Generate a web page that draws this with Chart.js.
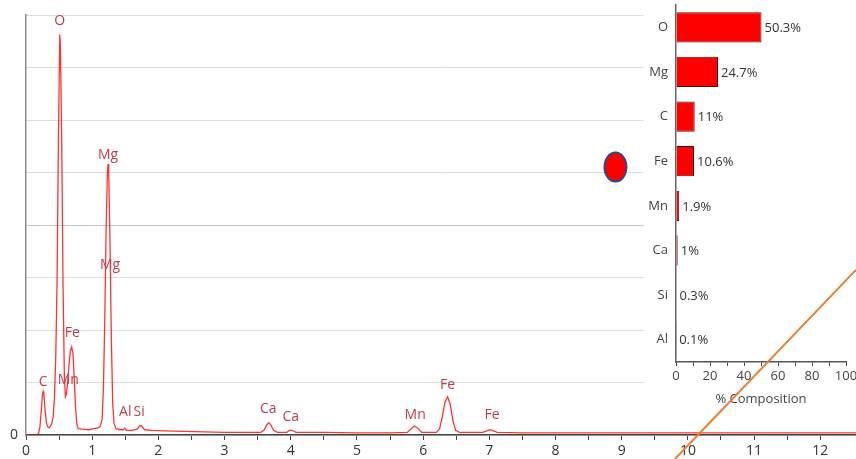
<!DOCTYPE html>
<html>
<head>
<meta charset="utf-8">
<script src="https://cdn.jsdelivr.net/npm/chart.js@4.4.1/dist/chart.umd.min.js"></script>
<style>
  html, body { margin: 0; padding: 0; background: #fff; }
  #wrap { position: relative; width: 856px; height: 459px; overflow: hidden; }
  #spectrum { position: absolute; left: 0; top: 0; }
  #composition { position: absolute; left: 644px; top: 0; }
</style>
</head>
<body>
<div id="wrap">
  <canvas id="spectrum" width="856" height="459"></canvas>
  <canvas id="composition" width="212" height="459"></canvas>
</div>
<script>
// EDS spectrum: energy (keV) and intensity (arbitrary units)
const energyKeV = [
  0.00, 0.16, 0.19, 0.21, 0.23, 0.25, 0.26, 0.27, 0.29, 0.31, 0.33, 0.35, 0.37, 0.39,
  0.41, 0.43, 0.45, 0.47, 0.49, 0.51, 0.52, 0.54, 0.56, 0.58, 0.595, 0.61, 0.63, 0.65,
  0.67, 0.69, 0.71, 0.73, 0.75, 0.77, 0.79, 0.85, 0.95, 1.02, 1.08, 1.12, 1.15, 1.17,
  1.19, 1.21, 1.23, 1.24, 1.25, 1.27, 1.29, 1.31, 1.33, 1.36, 1.42, 1.47, 1.49, 1.52,
  1.60, 1.68, 1.72, 1.75, 1.79, 1.90, 2.10, 2.40, 2.70, 3.00, 3.30, 3.55, 3.60, 3.64,
  3.67, 3.70, 3.74, 3.80, 3.94, 3.98, 4.02, 4.08, 4.50, 5.00, 5.50, 5.76, 5.82, 5.87,
  5.92, 5.98, 6.20, 6.25, 6.29, 6.33, 6.37, 6.41, 6.45, 6.49, 6.55, 6.90, 6.96, 7.01,
  7.06, 7.12, 7.50, 8.00, 9.00, 10.00, 11.00, 12.00, 12.60
];
const intensity = [
  0.00, 0.00, 0.03, 0.15, 0.45, 0.78, 0.83, 0.78, 0.45, 0.22, 0.15, 0.14, 0.17, 0.22,
  0.35, 0.70, 1.50, 3.00, 5.60, 7.63, 7.40, 5.60, 2.80, 1.10, 0.73, 0.78, 1.00, 1.35,
  1.60, 1.68, 1.55, 1.05, 0.50, 0.20, 0.12, 0.11, 0.10, 0.12, 0.13, 0.16, 0.30, 0.90,
  2.20, 3.90, 5.00, 5.16, 5.00, 3.60, 1.80, 0.60, 0.22, 0.12, 0.10, 0.10, 0.13, 0.09,
  0.09, 0.11, 0.18, 0.17, 0.10, 0.09, 0.08, 0.07, 0.06, 0.05, 0.05, 0.05, 0.10, 0.20,
  0.23, 0.19, 0.09, 0.05, 0.05, 0.09, 0.09, 0.05, 0.05, 0.04, 0.04, 0.05, 0.12, 0.17,
  0.13, 0.05, 0.05, 0.12, 0.35, 0.62, 0.73, 0.58, 0.28, 0.09, 0.05, 0.05, 0.08, 0.10,
  0.08, 0.05, 0.04, 0.04, 0.04, 0.04, 0.04, 0.04, 0.04
];

// Peak identification labels (element, energy in keV, label height in intensity units)
const peakNames   = ['O', 'Mg', 'Mg', 'Fe', 'Mn', 'C', 'Al', 'Si', 'Ca', 'Ca', 'Mn', 'Fe', 'Fe'];
const peakEnergy  = [0.51, 1.24, 1.27, 0.70, 0.64, 0.26, 1.50, 1.71, 3.66, 4.00, 5.88, 6.37, 7.04];
const peakLabelY  = [7.88, 5.34, 3.24, 1.95, 1.04, 1.00, 0.43, 0.43, 0.49, 0.34, 0.39, 0.95, 0.39];

// Elemental composition (weight %)
const elements    = ['O', 'Mg', 'C', 'Fe', 'Mn', 'Ca', 'Si', 'Al'];
const composition = [50.3, 24.7, 11, 10.6, 1.9, 1, 0.3, 0.1];

// Axis settings
const spectrumTickStep = 0.5;
const spectrumMaxKeV = 12.54;
const spectrumMaxY = 8;
const compositionTickStep = 10;
const compositionLabelStep = 20;

const FONT = '"Open Sans", "Noto Sans", sans-serif';
const pointSeries = energyKeV.map((e, i) => ({ x: e, y: intensity[i] }));

// keep axes from reserving extra room for overhanging tick labels
function noOverhang(scale) {
  scale.paddingTop = 0;
  scale.paddingBottom = 0;
  scale.paddingLeft = 0;
  scale.paddingRight = 0;
}

const peakLabelPlugin = {
  id: 'peakLabels',
  afterDatasetsDraw(chart) {
    const { ctx, scales } = chart;
    ctx.save();
    ctx.font = '14px ' + FONT;
    ctx.fillStyle = '#c43a4c';
    ctx.textAlign = 'center';
    ctx.textBaseline = 'middle';
    peakNames.forEach((name, i) => {
      ctx.fillText(name, scales.x.getPixelForValue(peakEnergy[i]), scales.y.getPixelForValue(peakLabelY[i]));
    });
    ctx.restore();
  },
  afterDraw(chart) {
    // marker dot next to the Fe row
    const { ctx, width, height } = chart;
    ctx.save();
    ctx.beginPath();
    ctx.ellipse(width * 0.719, height * 0.364, 11, 14.5, 0, 0, Math.PI * 2);
    ctx.fillStyle = '#ff0000';
    ctx.fill();
    ctx.lineWidth = 2;
    ctx.strokeStyle = '#2f4a8c';
    ctx.stroke();
    ctx.restore();
  }
};

new Chart(document.getElementById('spectrum'), {
  type: 'line',
  data: {
    datasets: [{
      data: pointSeries,
      borderColor: 'rgba(255, 0, 0, 0.8)',
      borderWidth: 1.3,
      pointRadius: 0,
      tension: 0,
      fill: false
    }]
  },
  options: {
    responsive: false,
    animation: false,
    devicePixelRatio: 1,
    layout: { padding: { top: 15, right: 0, left: 0, bottom: 0 } },
    plugins: { legend: { display: false }, tooltip: { enabled: false } },
    scales: {
      x: {
        type: 'linear',
        min: 0,
        max: spectrumMaxKeV,
        afterBuildTicks(scale) {
          scale.ticks = scale.ticks.filter(t => Math.abs(t.value / spectrumTickStep - Math.round(t.value / spectrumTickStep)) < 1e-6);
        },
        afterFit(scale) { scale.height = 24; noOverhang(scale); },
        ticks: {
          stepSize: spectrumTickStep,
          autoSkip: false,
          maxRotation: 0,
          padding: 3,
          color: '#333',
          font: { family: FONT, size: 14 },
          callback: v => (Number.isInteger(v) ? String(v) : '')
        },
        grid: { drawOnChartArea: false, drawTicks: true, tickLength: 5, color: '#444' },
        border: { color: '#444', width: 1.5 }
      },
      y: {
        min: 0,
        max: spectrumMaxY,
        afterFit(scale) { scale.width = 26; noOverhang(scale); },
        ticks: {
          stepSize: 1,
          padding: 8,
          color: '#333',
          font: { family: FONT, size: 14 },
          callback: v => (v === 0 ? '0' : '')
        },
        grid: {
          drawTicks: false,
          color: c => (c.tick && c.tick.value === 4 ? '#c6c6c6' : '#dddddd'),
          lineWidth: 1
        },
        border: { color: '#8a8a8a', width: 1.5 }
      }
    }
  },
  plugins: [peakLabelPlugin]
});

const compositionPlugin = {
  id: 'compositionExtras',
  beforeDraw(chart) {
    const { ctx, width } = chart;
    ctx.save();
    ctx.fillStyle = '#ffffff';
    ctx.fillRect(0, 0, width, 415);
    ctx.restore();
  },
  afterDatasetsDraw(chart) {
    const { ctx } = chart;
    const meta = chart.getDatasetMeta(0);
    ctx.save();
    ctx.font = '13px ' + FONT;
    ctx.fillStyle = '#333';
    ctx.textAlign = 'left';
    ctx.textBaseline = 'middle';
    meta.data.forEach((bar, i) => {
      ctx.fillText(composition[i] + '%', bar.x + 3, bar.y + 1);
    });
    ctx.restore();
  },
  afterDraw(chart) {
    // diagonal orange stroke across the lower right corner
    const { ctx, width, height } = chart;
    ctx.save();
    ctx.beginPath();
    ctx.moveTo(width * 0.146, height);
    ctx.lineTo(width, height * 0.588);
    ctx.strokeStyle = '#ed7d31';
    ctx.lineWidth = 2;
    ctx.stroke();
    ctx.restore();
  }
};

new Chart(document.getElementById('composition'), {
  type: 'bar',
  data: {
    labels: elements,
    datasets: [{
      data: composition,
      backgroundColor: '#ff0000',
      borderColor: '#4a0d0d',
      borderWidth: 1,
      barPercentage: 0.68,
      categoryPercentage: 1
    }]
  },
  options: {
    indexAxis: 'y',
    responsive: false,
    animation: false,
    devicePixelRatio: 1,
    layout: { padding: { top: 5, right: 10, left: 0, bottom: 44 } },
    plugins: { legend: { display: false }, tooltip: { enabled: false } },
    scales: {
      x: {
        min: 0,
        max: 100,
        afterFit(scale) { scale.height = 53; noOverhang(scale); },
        ticks: {
          stepSize: compositionTickStep,
          autoSkip: false,
          maxRotation: 0,
          padding: 2,
          color: '#444',
          font: { family: FONT, size: 13 },
          callback: v => (v % compositionLabelStep === 0 ? String(v) : '')
        },
        grid: { drawOnChartArea: false, drawTicks: true, tickLength: 4, color: '#444' },
        border: { color: '#555', width: 1.5 },
        title: {
          display: true,
          text: '% Composition',
          color: '#444',
          font: { family: FONT, size: 13 },
          padding: { top: 0, bottom: 8 }
        }
      },
      y: {
        afterFit(scale) { scale.width = 32; noOverhang(scale); },
        ticks: {
          padding: 8,
          color: '#444',
          font: { family: FONT, size: 13 }
        },
        grid: { display: false, drawTicks: false },
        border: { display: true, color: '#666', width: 1.5 }
      }
    }
  },
  plugins: [compositionPlugin]
});
</script>
</body>
</html>
